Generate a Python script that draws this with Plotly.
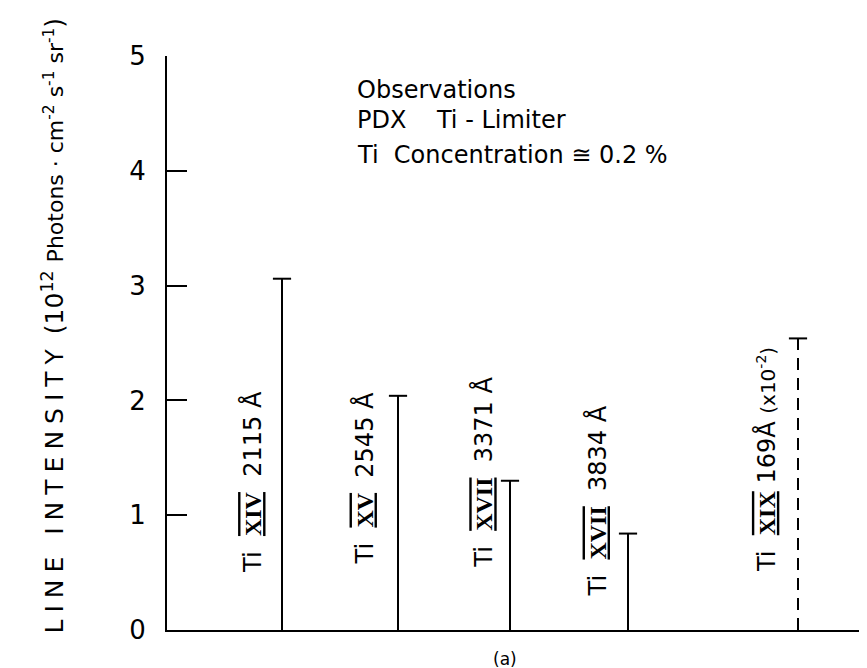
import plotly.graph_objects as go

# ---- data ----
ions = ["XIV", "XV", "XVII", "XVII", "XIX"]
wavelengths = ["2115", "2545", "3371", "3834", "169"]
line_pos = [1.15, 2.31, 3.43, 4.61, 6.31]      # horizontal position of each line
intensity = [3.06, 2.04, 1.30, 0.84, 2.54]     # 10^12 photons cm^-2 s^-1 sr^-1
scaled = [False, False, False, False, True]    # last line plotted x10^-2 (dashed)
y_ticks = [0, 1, 2, 3, 4, 5]
info_lines = ["Observations", "PDX    Ti - Limiter", "Ti  Concentration \u2245 0.2 %"]

# ---- layout helpers (placement only) ----
label_shift = [-29, -34, -26, -31, -32]        # px left of each line
label_mid = [1.29, 1.32, 1.37, 1.12, 1.48]     # vertical centre of rotated labels
FONT = "DejaVu Sans, sans-serif"
SERIF = "Liberation Serif, DejaVu Serif, serif"

fig = go.Figure()

for dashed in (False, True):
    xs, ys, cx, cy = [], [], [], []
    for p, v, s in zip(line_pos, intensity, scaled):
        if s != dashed:
            continue
        xs += [p, p, None]
        ys += [0, v, None]
        cx.append(p)
        cy.append(v)
    fig.add_trace(go.Scatter(
        x=xs, y=ys, mode="lines",
        line=dict(color="black", width=2, dash="12px,8px" if dashed else "solid"),
        hoverinfo="skip", showlegend=False))
    fig.add_trace(go.Scatter(
        x=cx, y=cy, mode="markers",
        marker=dict(symbol="line-ew-open", size=13, color="black",
                    line=dict(color="black", width=2)),
        hoverinfo="skip", showlegend=False))

annotations = []
for i, (ion, wl, p) in enumerate(zip(ions, wavelengths, line_pos)):
    roman = f"<span style='font-family:{SERIF};text-decoration:underline overline'><b>{ion}</b></span>"
    if scaled[i]:
        txt = f"Ti  {roman} {wl}\u00c5 <span style='font-size:20px'>(x10<sup>-2</sup>)</span>"
    else:
        txt = f"Ti  {roman}  {wl} \u00c5"
    annotations.append(dict(
        x=p, y=label_mid[i], xref="x", yref="y", xshift=label_shift[i],
        text=txt, textangle=-90, showarrow=False,
        xanchor="center", yanchor="middle",
        font=dict(family=FONT, size=24, color="black")))

info_y = [4.70, 4.44, 4.14]
for t, yy in zip(info_lines, info_y):
    annotations.append(dict(
        x=(347 - 159) / 100, y=yy, xref="x", yref="y", text=t, showarrow=False,
        xanchor="left", yanchor="middle",
        font=dict(family=FONT, size=24, color="black")))

annotations.append(dict(
    x=-0.16, y=0.53, xref="paper", yref="paper", textangle=-90, showarrow=False,
    xanchor="center", yanchor="middle",
    text="<span style='letter-spacing:7px'>LINE INTENSITY</span> "
         "(10<sup>12</sup> <span style='font-size:22px'>Photons \u00b7 cm<sup>-2</sup> s<sup>-1</sup> sr<sup>-1</sup></span>)",
    font=dict(family=FONT, size=25, color="black")))

annotations.append(dict(
    x=0.477, y=-0.05, xref="paper", yref="paper", text="(a)", showarrow=False,
    xanchor="center", yanchor="middle",
    font=dict(family=FONT, size=17, color="black")))

fig.update_layout(
    width=867, height=668,
    margin=dict(l=159, r=0, t=48, b=46),
    paper_bgcolor="white", plot_bgcolor="white",
    xaxis=dict(range=[0, 7.08], showline=True, linecolor="black", linewidth=2,
               showticklabels=False, ticks="", showgrid=False, zeroline=False),
    yaxis=dict(range=[0, 5], tickvals=y_ticks, ticktext=[str(t) for t in y_ticks],
               showline=True, linecolor="black", linewidth=2,
               ticks="inside", ticklen=20, tickwidth=2, tickcolor="black",
               tickfont=dict(family=FONT, size=26, color="black"),
               ticklabelstandoff=14,
               showgrid=False, zeroline=False),
    annotations=annotations,
)

fig.write_html("out.html")
